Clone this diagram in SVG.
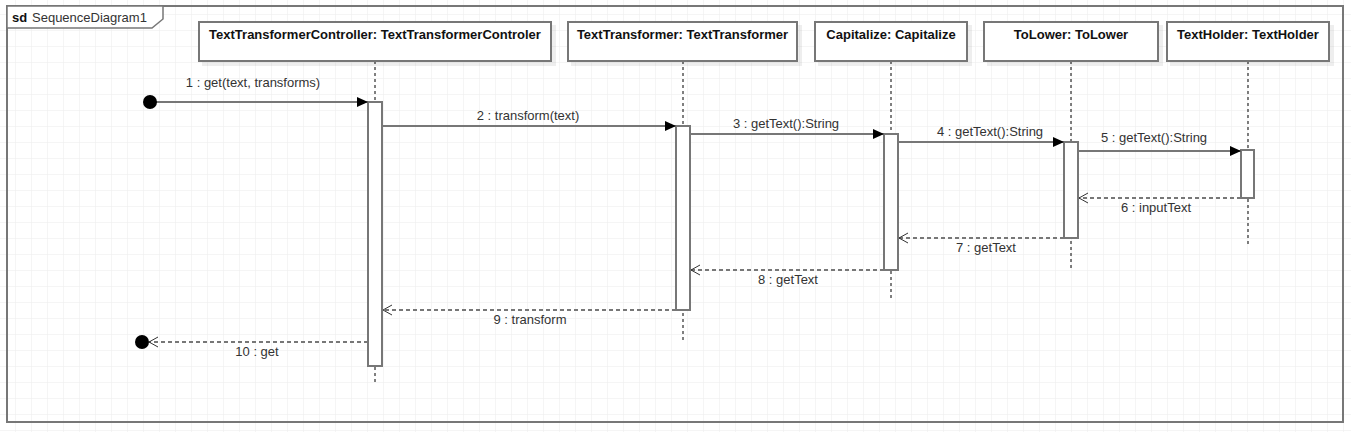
<svg xmlns="http://www.w3.org/2000/svg" width="1351" height="432" viewBox="0 0 1351 432">
<defs>
<pattern id="grid" x="15" y="14" width="16" height="16" patternUnits="userSpaceOnUse">
<path d="M0 0H16M0 0V16" fill="none" stroke="#ebebeb" stroke-width="1"/>
</pattern>
<marker id="filled" markerWidth="12" markerHeight="10" refX="11" refY="5" orient="auto" markerUnits="userSpaceOnUse">
<path d="M0 0L11 5L0 10Z" fill="#000"/>
</marker>
<marker id="open" markerWidth="12" markerHeight="12" refX="10" refY="6" orient="auto" markerUnits="userSpaceOnUse">
<path d="M1 1L10 6L1 11" fill="none" stroke="#333" stroke-width="1"/>
</marker>
<filter id="sh" x="-5%" y="-20%" width="115%" height="160%">
<feOffset dx="4" dy="4" in="SourceAlpha" result="o"/>
<feComponentTransfer in="o" result="s"><feFuncA type="linear" slope="0.07"/></feComponentTransfer>
<feMerge><feMergeNode in="s"/><feMergeNode in="SourceGraphic"/></feMerge>
</filter>
</defs>
<style>
text{font-family:"Liberation Sans",Arial,sans-serif;font-size:13px;fill:#333}
.hd{font-weight:bold;fill:#111}
.box{fill:#fff;stroke:#777;stroke-width:2}
.life{stroke:#000;stroke-width:1;stroke-dasharray:3,3}
.act{fill:#fff;stroke:#777;stroke-width:2}
.msg{stroke:#777;stroke-width:2;fill:none}
.ret{stroke:#777;stroke-width:2;fill:none;stroke-dasharray:4,3}
</style>
<rect width="1351" height="432" fill="#fff"/>
<rect width="1351" height="432" fill="url(#grid)"/>
<g id="frame">
<rect x="7" y="6" width="1336" height="416" fill="none" stroke="#777" stroke-width="2"/>
<path d="M7 6H163V19L152 28H7Z" fill="#fff" stroke="#777" stroke-width="1.5"/>
<text x="12" y="22" class="hd">sd</text>
<text x="32" y="22">SequenceDiagram1</text>
</g>
<g id="controller">
<line x1="375" y1="61" x2="375" y2="382" class="life"/>
<rect x="199" y="22" width="352" height="39" class="box" filter="url(#sh)"/>
<text x="375" y="39" text-anchor="middle" class="hd">TextTransformerController: TextTransformerControler</text>
<rect x="368" y="102" width="14" height="264" class="act"/>
</g>
<g id="transformer">
<line x1="683" y1="61" x2="683" y2="341" class="life"/>
<rect x="568" y="22" width="229" height="39" class="box" filter="url(#sh)"/>
<text x="682.5" y="39" text-anchor="middle" class="hd">TextTransformer: TextTransformer</text>
<rect x="676" y="126" width="14" height="184" class="act"/>
</g>
<g id="capitalize">
<line x1="891" y1="61" x2="891" y2="299" class="life"/>
<rect x="815" y="22" width="152" height="39" class="box" filter="url(#sh)"/>
<text x="891" y="39" text-anchor="middle" class="hd">Capitalize: Capitalize</text>
<rect x="884" y="134" width="14" height="136" class="act"/>
</g>
<g id="tolower">
<line x1="1071" y1="61" x2="1071" y2="269" class="life"/>
<rect x="984" y="22" width="174" height="39" class="box" filter="url(#sh)"/>
<text x="1071" y="39" text-anchor="middle" class="hd">ToLower: ToLower</text>
<rect x="1064" y="142" width="14" height="96" class="act"/>
</g>
<g id="textholder">
<line x1="1248" y1="61" x2="1248" y2="245" class="life"/>
<rect x="1167" y="22" width="162" height="39" class="box" filter="url(#sh)"/>
<text x="1248" y="39" text-anchor="middle" class="hd">TextHolder: TextHolder</text>
<rect x="1241" y="150" width="13" height="48" class="act"/>
</g>
<g id="connectors">
<line x1="150" y1="102" x2="368" y2="102" class="msg" marker-end="url(#filled)"/>
<circle cx="150" cy="102" r="7" fill="#000"/>
<text x="253" y="87" text-anchor="middle">1 : get(text, transforms)</text>
<line x1="382" y1="126" x2="676" y2="126" class="msg" marker-end="url(#filled)"/>
<text x="528" y="120" text-anchor="middle">2 : transform(text)</text>
<line x1="690" y1="134" x2="884" y2="134" class="msg" marker-end="url(#filled)"/>
<text x="786" y="128" text-anchor="middle">3 : getText():String</text>
<line x1="898" y1="142" x2="1064" y2="142" class="msg" marker-end="url(#filled)"/>
<text x="990" y="136" text-anchor="middle">4 : getText():String</text>
<line x1="1078" y1="151" x2="1241" y2="151" class="msg" marker-end="url(#filled)"/>
<text x="1154" y="142" text-anchor="middle">5 : getText():String</text>
<line x1="1241" y1="198" x2="1079" y2="198" class="ret" marker-end="url(#open)"/>
<text x="1156" y="212" text-anchor="middle">6 : inputText</text>
<line x1="1064" y1="238" x2="899" y2="238" class="ret" marker-end="url(#open)"/>
<text x="986" y="252" text-anchor="middle">7 : getText</text>
<line x1="884" y1="270" x2="691" y2="270" class="ret" marker-end="url(#open)"/>
<text x="788" y="284" text-anchor="middle">8 : getText</text>
<line x1="676" y1="310" x2="383" y2="310" class="ret" marker-end="url(#open)"/>
<text x="530" y="324" text-anchor="middle">9 : transform</text>
<line x1="368" y1="342" x2="149" y2="342" class="ret" marker-end="url(#open)"/>
<circle cx="142" cy="342" r="7" fill="#000"/>
<text x="257" y="356" text-anchor="middle">10 : get</text>
</g>
</svg>
